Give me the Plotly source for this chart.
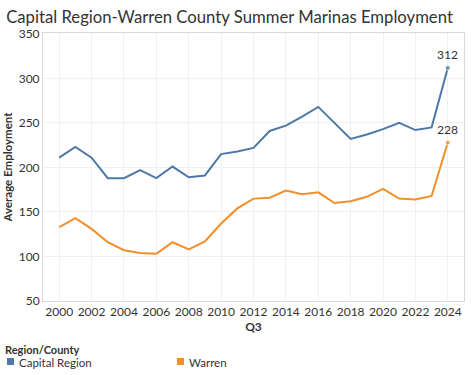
import plotly.graph_objects as go

years = list(range(2000, 2025))
capital_region = [211, 223, 211, 188, 188, 197, 188, 201, 189, 191, 215, 218, 222, 241, 247, 257, 268, 250, 232, 237, 243, 250, 242, 245, 312]
warren = [133, 143, 131, 116, 107, 104, 103, 116, 108, 117, 137, 154, 165, 166, 174, 170, 172, 160, 162, 167, 176, 165, 164, 168, 228]
series_names = ["Capital Region", "Warren"]
colors = ["#4e79a7", "#f28e2b"]
x_ticks = list(range(2000, 2025, 2))
y_ticks = [50, 100, 150, 200, 250, 300, 350]

W, H = 474, 375
ML, MR, MT, MB = 43, 10, 33, 74
PW, PH = W - ML - MR, H - MT - MB


def px(x):
    return (x - ML) / PW


def py(y):
    return (H - MB - y) / PH


fig = go.Figure()
legend_x = [7, 177]
for name, vals, c, lx in zip(series_names, [capital_region, warren], colors, legend_x):
    sizes = [0] * (len(vals) - 1) + [5]
    fig.add_trace(go.Scatter(x=years, y=vals, mode="lines+markers", name=name,
                             line=dict(color=c, width=2), marker=dict(size=sizes, color=c),
                             showlegend=False, hoverinfo="x+y"))
    fig.add_annotation(x=years[-1], y=vals[-1], text=str(vals[-1]), showarrow=False,
                       yshift=13, font=dict(size=12, color="#333333"))
    # legend entry
    fig.add_shape(type="rect", xref="paper", yref="paper",
                  x0=px(lx), x1=px(lx + 7), y0=py(358), y1=py(365),
                  fillcolor=c, line=dict(width=0))
    fig.add_annotation(xref="paper", yref="paper", x=px(lx + 10), y=py(362.5),
                       xanchor="left", yanchor="middle", text=name, showarrow=False,
                       font=dict(size=11.5, color="#333333"))

fig.add_annotation(xref="paper", yref="paper", x=px(3), y=py(349), xanchor="left",
                   yanchor="middle", text="<b>Region/County</b>", showarrow=False,
                   font=dict(size=11, color="#333333"))

fig.update_layout(
    width=W, height=H,
    margin=dict(l=ML, r=MR, t=MT, b=MB, autoexpand=False),
    paper_bgcolor="white", plot_bgcolor="white",
    font=dict(family="Lato", size=12, color="#333333"),
    showlegend=False,
    title=dict(text="Capital Region-Warren County Summer Marinas Employment",
               x=0.013, xanchor="left", y=0.953, yanchor="middle",
               font=dict(size=16.7, color="#333333")),
    xaxis=dict(range=[1999, 2025], tickvals=x_ticks, showgrid=True, gridcolor="#f0f0f0",
               showline=True, linecolor="#d9d9d9", mirror=True, zeroline=False, ticks="",
               title=dict(text="<b>Q3</b>", font=dict(size=12), standoff=4),
               tickfont=dict(size=12)),
    yaxis=dict(range=[50, 351], tickvals=y_ticks, showgrid=True, gridcolor="#f0f0f0",
               showline=True, linecolor="#d9d9d9", mirror=True, zeroline=False, ticks="",
               title=dict(text="<b>Average Employment</b>", font=dict(size=11.5), standoff=3),
               tickfont=dict(size=12)),
)
fig.write_html("out.html", config={"displayModeBar": False},
               post_script="document.body.style.margin='0';")
